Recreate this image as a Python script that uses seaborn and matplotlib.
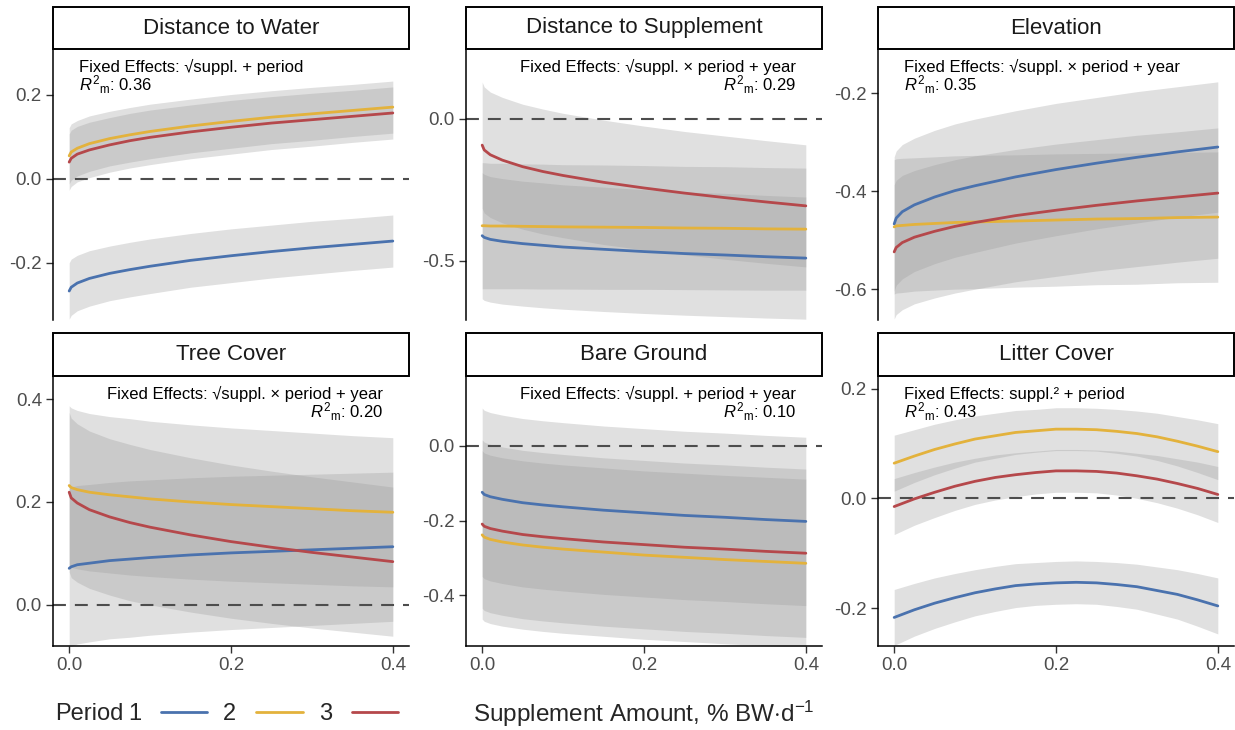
import matplotlib
matplotlib.use("Agg")
import matplotlib.pyplot as plt
from matplotlib.lines import Line2D
from matplotlib.patches import Rectangle
from matplotlib.ticker import FormatStrFormatter
import pandas as pd
import seaborn as sns

# supplement amount grids (% BW per day)
supp = [0.0, 0.0025, 0.01, 0.025, 0.05, 0.075, 0.1, 0.15, 0.2, 0.25, 0.3, 0.35, 0.4]
supp_litter = [0.0, 0.025, 0.05, 0.075, 0.1, 0.125, 0.15, 0.175, 0.2,
               0.225, 0.25, 0.275, 0.3, 0.325, 0.35, 0.375, 0.4]
periods = ["1", "2", "3"]
period_colors = ["#4a72ae", "#e3b23c", "#b5484b"]

# predicted effects per period (rows: period 1, 2, 3) and confidence half-widths
water_fit = [
    [-0.267, -0.258, -0.248, -0.237, -0.225, -0.216, -0.208, -0.194, -0.183, -0.173, -0.164, -0.156, -0.148],
    [0.055, 0.064, 0.073, 0.084, 0.096, 0.105, 0.113, 0.126, 0.137, 0.147, 0.155, 0.163, 0.171],
    [0.040, 0.049, 0.059, 0.069, 0.081, 0.091, 0.099, 0.112, 0.123, 0.133, 0.141, 0.149, 0.157],
]
water_hw = [0.067, 0.067, 0.066, 0.066, 0.065, 0.065, 0.065, 0.064, 0.064, 0.063, 0.063, 0.062, 0.062]

supplement_fit = [
    [-0.411, -0.417, -0.424, -0.431, -0.439, -0.445, -0.451, -0.459, -0.467, -0.474, -0.479, -0.485, -0.490],
    [-0.376, -0.376, -0.377, -0.377, -0.378, -0.379, -0.380, -0.381, -0.382, -0.384, -0.385, -0.387, -0.388],
    [-0.092, -0.109, -0.126, -0.145, -0.168, -0.185, -0.199, -0.223, -0.243, -0.261, -0.277, -0.292, -0.306],
]
supplement_hw = [0.222, 0.222, 0.221, 0.221, 0.220, 0.220, 0.219, 0.219, 0.218, 0.217, 0.217, 0.216, 0.215]

elevation_fit = [
    [-0.467, -0.455, -0.442, -0.428, -0.412, -0.399, -0.389, -0.371, -0.356, -0.343, -0.331, -0.320, -0.310],
    [-0.473, -0.471, -0.470, -0.468, -0.466, -0.464, -0.463, -0.461, -0.459, -0.457, -0.456, -0.454, -0.453],
    [-0.524, -0.515, -0.505, -0.494, -0.482, -0.472, -0.464, -0.450, -0.439, -0.429, -0.420, -0.412, -0.404],
]
elevation_hw = [0.137, 0.137, 0.137, 0.136, 0.136, 0.136, 0.136, 0.135, 0.135, 0.134, 0.134, 0.133, 0.133]

tree_fit = [
    [0.071, 0.074, 0.078, 0.081, 0.086, 0.089, 0.092, 0.097, 0.101, 0.104, 0.107, 0.110, 0.113],
    [0.232, 0.228, 0.224, 0.219, 0.214, 0.210, 0.206, 0.200, 0.195, 0.191, 0.187, 0.183, 0.180],
    [0.219, 0.208, 0.198, 0.185, 0.171, 0.160, 0.151, 0.136, 0.123, 0.112, 0.102, 0.093, 0.084],
]
tree_hw = [0.155, 0.155, 0.154, 0.153, 0.152, 0.152, 0.151, 0.150, 0.149, 0.148, 0.147, 0.146, 0.145]

bare_fit = [
    [-0.124, -0.130, -0.136, -0.143, -0.152, -0.158, -0.163, -0.172, -0.179, -0.186, -0.191, -0.197, -0.202],
    [-0.238, -0.244, -0.250, -0.257, -0.265, -0.271, -0.276, -0.284, -0.292, -0.298, -0.304, -0.309, -0.314],
    [-0.209, -0.215, -0.221, -0.228, -0.237, -0.243, -0.248, -0.257, -0.264, -0.271, -0.276, -0.282, -0.287],
]
bare_hw = [0.225, 0.225, 0.225, 0.225, 0.225, 0.225, 0.225, 0.225, 0.225, 0.225, 0.225, 0.225, 0.225]

litter_fit = [
    [-0.217, -0.203, -0.191, -0.181, -0.172, -0.165, -0.159, -0.156, -0.154,
     -0.153, -0.154, -0.157, -0.161, -0.168, -0.175, -0.185, -0.196],
    [0.064, 0.077, 0.089, 0.099, 0.108, 0.114, 0.120, 0.123, 0.126,
     0.126, 0.125, 0.122, 0.118, 0.112, 0.104, 0.095, 0.085],
    [-0.015, -0.001, 0.011, 0.022, 0.031, 0.038, 0.043, 0.047, 0.050,
     0.050, 0.049, 0.046, 0.041, 0.035, 0.027, 0.018, 0.007],
]
litter_hw = [0.051, 0.048, 0.046, 0.044, 0.042, 0.041, 0.040, 0.039, 0.039,
             0.039, 0.039, 0.040, 0.041, 0.043, 0.045, 0.048, 0.051]

titles = ["Distance to Water", "Distance to Supplement", "Elevation",
          "Tree Cover", "Bare Ground", "Litter Cover"]
formulas = [
    "Fixed Effects: \u221asuppl. + period",
    "Fixed Effects: \u221asuppl. \u00d7 period + year",
    "Fixed Effects: \u221asuppl. \u00d7 period + year",
    "Fixed Effects: \u221asuppl. \u00d7 period + year",
    "Fixed Effects: \u221asuppl. + period + year",
    "Fixed Effects: suppl.\u00b2 + period",
]
r2m = ["0.36", "0.29", "0.35", "0.20", "0.10", "0.43"]
label_side = ["left", "right", "left", "right", "right", "left"]
y_ticks = [[-0.2, 0.0, 0.2], [-0.5, 0.0], [-0.6, -0.4, -0.2],
           [0.0, 0.2, 0.4], [-0.4, -0.2, 0.0], [-0.2, 0.0, 0.2]]
y_limits = [(-0.336, 0.307), (-0.708, 0.243), (-0.663, -0.112),
            (-0.080, 0.443), (-0.535, 0.184), (-0.269, 0.221)]

grids = [supp, supp, supp, supp, supp, supp_litter]
fits = [water_fit, supplement_fit, elevation_fit, tree_fit, bare_fit, litter_fit]
halfwidths = [water_hw, supplement_hw, elevation_hw, tree_hw, bare_hw, litter_hw]

sns.set_style("ticks")
plt.rcParams["font.family"] = ["Liberation Sans", "DejaVu Sans"]
plt.rcParams["mathtext.fontset"] = "custom"
plt.rcParams["mathtext.rm"] = "Liberation Sans"
plt.rcParams["mathtext.it"] = "Liberation Sans:italic"
plt.rcParams["axes.unicode_minus"] = False

W, H = 1235, 730
fig = plt.figure(figsize=(W / 100, H / 100), dpi=100)

col_left = [53, 466, 878]
col_width = 356
row_top = [50, 377]
row_height = [270, 269]
strip_h = [41, 43]

palette = dict(zip(periods, period_colors))

for i in range(6):
    r, c = divmod(i, 3)
    left = col_left[c] / W
    bottom = 1 - (row_top[r] + row_height[r]) / H
    ax = fig.add_axes([left, bottom, col_width / W, row_height[r] / H])

    rows = []
    for p, fit in zip(periods, fits[i]):
        for x, y, h in zip(grids[i], fit, halfwidths[i]):
            rows.append({"supp": x, "fit": y, "lo": y - h, "hi": y + h, "period": p})
    df = pd.DataFrame(rows)

    for p in periods:
        d = df[df["period"] == p]
        ax.fill_between(d["supp"], d["lo"], d["hi"], color="#999999",
                        alpha=0.3, linewidth=0, zorder=1)
    ax.axhline(0, color="#4d4d4d", lw=1.5, ls=(0, (6.2, 4.3)), zorder=2)
    sns.lineplot(data=df, x="supp", y="fit", hue="period", palette=palette,
                 hue_order=periods, ax=ax, legend=False, lw=2.0, zorder=3)

    ax.set_xlim(-0.02, 0.42)
    ax.set_ylim(*y_limits[i])
    ax.set_yticks(y_ticks[i])
    ax.yaxis.set_major_formatter(FormatStrFormatter("%.1f"))
    ax.set_xlabel("")
    ax.set_ylabel("")
    ax.tick_params(axis="both", labelsize=13.5, labelcolor="#4d4d4d",
                   color="#333333", length=5, width=1.0, pad=3)
    for s in ["top", "right"]:
        ax.spines[s].set_visible(False)
    ax.spines["left"].set_linewidth(1.1)
    ax.spines["left"].set_color("black")
    if r == 0:
        ax.spines["bottom"].set_visible(False)
        ax.tick_params(axis="x", bottom=False, labelbottom=False)
    else:
        ax.spines["bottom"].set_linewidth(1.1)
        ax.spines["bottom"].set_color("black")
        ax.set_xticks([0.0, 0.2, 0.4])
        ax.xaxis.set_major_formatter(FormatStrFormatter("%.1f"))

    # facet strip
    hpx = row_height[r]
    y0 = 1 + 1.5 / hpx
    y1 = 1 + (strip_h[r] + 1.5) / hpx
    ax.add_patch(Rectangle((0, y0), 1, y1 - y0, transform=ax.transAxes,
                           facecolor="white", edgecolor="black", lw=1.4,
                           clip_on=False, zorder=5))
    ax.text(0.5, (y0 + y1) / 2, titles[i], transform=ax.transAxes,
            ha="center", va="center", fontsize=16, color="#1a1a1a", zorder=6)

    # model annotation
    if label_side[i] == "left":
        xa, ha = 26 / col_width, "left"
    else:
        xa, ha = 1 - 26 / col_width, "right"
    ax.text(xa, 1 - 22 / hpx, formulas[i], transform=ax.transAxes,
            ha=ha, va="baseline", fontsize=12, color="black", zorder=6)
    ax.text(xa, 1 - 41 / hpx, r"$R^{2}{}_{\mathrm{m}}$: " + r2m[i],
            transform=ax.transAxes, ha=ha, va="baseline", fontsize=12,
            color="black", zorder=6)

# legend and shared axis title
handles = [Line2D([], [], color=col, lw=2.0) for col in period_colors]
leg = fig.legend(handles, periods, loc="center left",
                 bbox_to_anchor=(128 / W, 1 - 714 / H), ncol=3, frameon=False,
                 markerfirst=False, fontsize=17, handlelength=1.95,
                 handletextpad=0.85, columnspacing=0.68, borderpad=0,
                 borderaxespad=0)
fig.canvas.draw()
first = leg.get_texts()[0]
bb = first.get_window_extent(renderer=fig.canvas.get_renderer())
fig.text(55 / W, bb.y0 / fig.bbox.height, "Period", ha="left", va="bottom",
         fontsize=17)
fig.text(473 / W, 1 - 722 / H, r"Supplement Amount, % BW$\cdot$d$^{-1}$",
         ha="left", va="baseline", fontsize=17.5)

fig.savefig("out.png", dpi=100)
